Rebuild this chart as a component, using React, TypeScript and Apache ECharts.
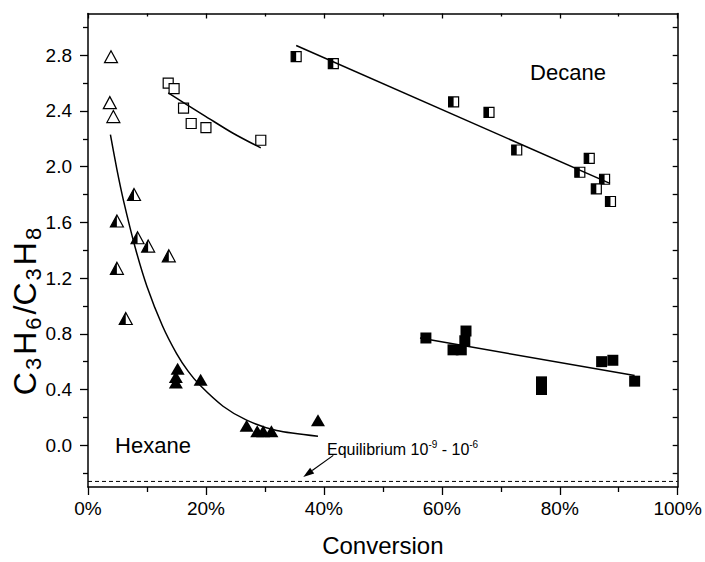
import React, { useEffect, useRef } from "react";
import * as echarts from "echarts";

const FONT = '"Liberation Sans", Arial, Helvetica, sans-serif';
const BLACK = "#000";

// X axis
const xMin = 0;
const xMax = 100;
const xInterval = 20;

// Y axis
const yMin = -0.3;
const yMax = 3.1;
const yMajorTicks = [0, 0.4, 0.8, 1.2, 1.6, 2.0, 2.4, 2.8];
const yMinorTicks = [-0.2, 0.2, 0.6, 1.0, 1.4, 1.8, 2.2, 2.6, 3.0];
const yAllTicks = [-0.2, 0, 0.2, 0.4, 0.6, 0.8, 1.0, 1.2, 1.4, 1.6, 1.8, 2.0, 2.2, 2.4, 2.6, 2.8, 3.0];

// Hexane data
const hexOpenTri = [[3.9, 2.79], [3.7, 2.46], [4.3, 2.36]];
const hexHalfTri = [[7.8, 1.80], [4.9, 1.61], [8.4, 1.49], [10.2, 1.43], [13.7, 1.36], [4.9, 1.27], [6.4, 0.91]];
const hexFilledTri = [[15.2, 0.55], [14.9, 0.49], [14.9, 0.45], [19.1, 0.47], [26.9, 0.14], [28.7, 0.10], [29.7, 0.10], [31.1, 0.10], [39.0, 0.18]];
const hexFit = [[3.8, 2.23], [4.9, 1.98], [6, 1.76], [8, 1.42], [10, 1.14], [12.6, 0.86], [15, 0.66], [17, 0.53], [19, 0.43], [22.9, 0.28], [26.9, 0.18], [32, 0.105], [39, 0.064]];

// Open squares
const openSq = [[13.6, 2.60], [14.6, 2.56], [16.2, 2.42], [17.5, 2.31], [20.0, 2.28], [29.3, 2.19]];
const openSqFit = [[13.6, 2.53], [16.2, 2.46], [20, 2.36], [24.6, 2.24], [29.3, 2.135]];

// Decane data
const decHalfSq = [[35.3, 2.79], [41.6, 2.74], [62.0, 2.465], [68.0, 2.39], [72.7, 2.12], [85.0, 2.06], [83.4, 1.96], [87.6, 1.91], [86.2, 1.84], [88.6, 1.75]];
const decFit = [[35.3, 2.87], [88.5, 1.88]];
const filledSq = [[57.3, 0.77], [61.9, 0.685], [63.3, 0.685], [63.9, 0.75], [64.1, 0.82], [76.9, 0.455], [76.9, 0.40], [87.1, 0.60], [89.0, 0.61], [92.7, 0.46]];
const filledSqFit = [[56.3, 0.77], [92.7, 0.50]];

// Equilibrium
const equilibrium = [[0, -0.26], [100, -0.26]];
const arrowFrom = [41.6, -0.073];
const arrowTo = [36.5, -0.228];

const axisLineStyle = { color: BLACK, width: 1.5 };
const tickLineStyle = { color: BLACK, width: 1.3 };

export default function App() {
  const ref = useRef<HTMLDivElement>(null);
  useEffect(() => {
    const chart = echarts.init(ref.current!, null, { renderer: "svg" });
    const openItem = { color: "#fff", borderColor: BLACK, borderWidth: 1.2, opacity: 1 };
    const solidItem = { color: BLACK, opacity: 1 };
    const graphics: any[] = [
      {
        type: "text",
        x: 25,
        y: 310,
        rotation: Math.PI / 2,
        style: {
          text: "{n|C}{s|3}{n|H}{s|6}{n|/C}{s|3}{n|H}{s|8}",
          align: "center",
          verticalAlign: "middle",
          rich: {
            n: { fontSize: 32, lineHeight: 38, fontFamily: FONT, fill: BLACK, color: BLACK },
            s: { fontSize: 22, lineHeight: 22, fontFamily: FONT, fill: BLACK, color: BLACK, verticalAlign: "bottom", padding: [0, 3, 0, 2] },
          },
        },
      },
      {
        type: "text",
        x: 568,
        y: 72,
        style: { text: "Decane", fontSize: 22, fontFamily: FONT, fill: BLACK, align: "center", verticalAlign: "middle" },
      },
      {
        type: "text",
        x: 153,
        y: 445,
        style: { text: "Hexane", fontSize: 22, fontFamily: FONT, fill: BLACK, align: "center", verticalAlign: "middle" },
      },
      {
        type: "text",
        x: 327,
        y: 449,
        style: {
          text: "{a|Equilibrium 10}{b|-9}{a| - 10}{b|-6}",
          align: "left",
          verticalAlign: "middle",
          rich: {
            a: { fontSize: 16, lineHeight: 20, fontFamily: FONT, fill: BLACK, color: BLACK },
            b: { fontSize: 10, lineHeight: 10, fontFamily: FONT, fill: BLACK, color: BLACK, verticalAlign: "top" },
          },
        },
      },
    ];
    const option: any = {
      animation: false,
      backgroundColor: "#fff",
      grid: { left: 88, right: 27, top: 13.5, bottom: 71, containLabel: false },
      xAxis: [
        {
          type: "value",
          position: "bottom",
          min: xMin,
          max: xMax,
          interval: xInterval,
          axisLine: { show: true, onZero: false, lineStyle: axisLineStyle },
          axisTick: { show: true, inside: false, length: 8, lineStyle: tickLineStyle },
          minorTick: { show: true, splitNumber: 2, length: 5, lineStyle: tickLineStyle },
          axisLabel: { formatter: "{value}%", fontSize: 19, color: BLACK, fontFamily: FONT, margin: 12 },
          splitLine: { show: false },
          minorSplitLine: { show: false },
          name: "Conversion",
          nameLocation: "middle",
          nameGap: 46,
          nameTextStyle: { fontSize: 24, color: BLACK, fontFamily: FONT },
        },
        {
          type: "value",
          position: "top",
          min: xMin,
          max: xMax,
          interval: xInterval,
          axisLine: { show: true, onZero: false, lineStyle: axisLineStyle },
          axisTick: { show: true, inside: true, length: 5, lineStyle: tickLineStyle },
          minorTick: { show: true, splitNumber: 2, length: 3, lineStyle: tickLineStyle },
          axisLabel: { show: false },
          splitLine: { show: false },
        },
      ],
      yAxis: [
        {
          type: "value",
          position: "left",
          min: yMin,
          max: yMax,
          axisLine: { show: true, onZero: false, lineStyle: axisLineStyle },
          axisTick: { show: true, inside: false, length: 8, customValues: yMajorTicks, lineStyle: tickLineStyle },
          axisLabel: {
            customValues: yMajorTicks,
            formatter: (v: number) => v.toFixed(1),
            fontSize: 19,
            color: BLACK,
            fontFamily: FONT,
            margin: 16,
          },
          splitLine: { show: false },
        },
        {
          type: "value",
          position: "right",
          min: yMin,
          max: yMax,
          axisLine: { show: true, onZero: false, lineStyle: axisLineStyle },
          axisTick: { show: true, inside: true, length: 5, customValues: yAllTicks, lineStyle: tickLineStyle },
          axisLabel: { show: false },
          splitLine: { show: false },
        },
        {
          type: "value",
          position: "left",
          min: yMin,
          max: yMax,
          axisLine: { show: false },
          axisTick: { show: true, inside: false, length: 5, customValues: yMinorTicks, lineStyle: tickLineStyle },
          axisLabel: { show: false },
          splitLine: { show: false },
        },
      ],
      graphic: graphics,
      series: [
        {
          type: "line",
          data: equilibrium,
          symbol: "none",
          lineStyle: { color: BLACK, width: 1, type: [4, 3] },
          silent: true,
        },
        { type: "line", data: hexFit, symbol: "none", smooth: 0.25, lineStyle: { color: BLACK, width: 1.5 } },
        { type: "line", data: openSqFit, symbol: "none", smooth: 0.3, lineStyle: { color: BLACK, width: 1.5 } },
        { type: "line", data: decFit, symbol: "none", lineStyle: { color: BLACK, width: 1.5 } },
        { type: "line", data: filledSqFit, symbol: "none", lineStyle: { color: BLACK, width: 1.5 } },
        { type: "scatter", data: hexOpenTri, symbol: "triangle", symbolSize: [13, 12], itemStyle: openItem },
        { type: "scatter", data: hexHalfTri, symbol: "triangle", symbolSize: [13, 12], itemStyle: openItem },
        {
          type: "scatter",
          data: hexHalfTri,
          symbol: "path://M0,10L5,0L5,10Z",
          symbolSize: [6.5, 12],
          symbolOffset: [-3.25, 0],
          itemStyle: solidItem,
        },
        { type: "scatter", data: hexFilledTri, symbol: "triangle", symbolSize: [14, 12], itemStyle: solidItem },
        { type: "scatter", data: openSq, symbol: "rect", symbolSize: 10, itemStyle: openItem },
        { type: "scatter", data: decHalfSq, symbol: "rect", symbolSize: 10, itemStyle: openItem },
        {
          type: "scatter",
          data: decHalfSq,
          symbol: "rect",
          symbolSize: [5, 10],
          symbolOffset: [-2.5, 0],
          itemStyle: solidItem,
        },
        { type: "scatter", data: filledSq, symbol: "rect", symbolSize: 11, itemStyle: solidItem },
      ],
    };
    chart.setOption(option);

    // Annotation arrow, placed through the chart's own coordinate conversion
    const p1 = chart.convertToPixel({ xAxisIndex: 0, yAxisIndex: 0 }, arrowFrom) as number[];
    const p2 = chart.convertToPixel({ xAxisIndex: 0, yAxisIndex: 0 }, arrowTo) as number[];
    if (p1 && p2) {
      const ang = Math.atan2(p2[1] - p1[1], p2[0] - p1[0]);
      const L = 11;
      const W = 3.5;
      const bx = p2[0] - L * Math.cos(ang);
      const by = p2[1] - L * Math.sin(ang);
      const nx = -Math.sin(ang);
      const ny = Math.cos(ang);
      graphics.push(
        {
          type: "line",
          shape: { x1: p1[0], y1: p1[1], x2: bx, y2: by },
          style: { stroke: BLACK, lineWidth: 1.2 },
          silent: true,
        },
        {
          type: "polygon",
          shape: {
            points: [
              [p2[0], p2[1]],
              [bx + nx * W, by + ny * W],
              [bx - nx * W, by - ny * W],
            ],
          },
          style: { fill: BLACK },
          silent: true,
        }
      );
      chart.setOption({ graphic: graphics });
    }
    return () => chart.dispose();
  }, []);
  return <div ref={ref} style={{ width: 705, height: 562, position: "absolute", left: 0, top: 0 }} />;
}
